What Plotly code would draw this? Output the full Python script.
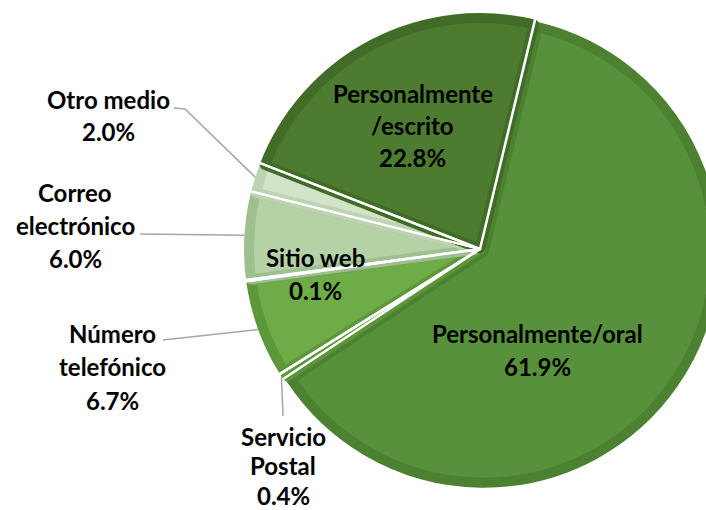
import math
import plotly.graph_objects as go

# ---- data ----
labels = ["Personalmente/oral", "Servicio Postal", "Número telefónico", "Sitio web",
          "Correo electrónico", "Otro medio", "Personalmente/escrito"]
values = [61.9, 0.4, 6.7, 0.1, 6.0, 2.0, 22.8]
label_lines = [["Personalmente/oral"], ["Servicio", "Postal"], ["Número", "telefónico"],
               ["Sitio web"], ["Correo", "electrónico"], ["Otro medio"], ["Personalmente", "/escrito"]]
pulls = [0.02, 0, 0, 0, 0, 0, 0]

fill_colors = ["#58913C", "#6AA84A", "#6EAC48", "#8CB870", "#B4D2A5", "#D2E3C8", "#4D7B30"]
border_colors = ["#4C8131", "#5A953A", "#5C9739", "#78A55C", "#9EBF8F", "#BDD3B1", "#416C28"]
sep_widths = [0, 2.5, 2.5, 2, 2, 2, 2.5]

# ---- layout geometry (pixels) ----
W, H = 730, 510
CX, CY = 480, 249
R = 236
BORDER = 10
ROT = 13.5
r0 = R - BORDER / 2


def px(x):
    return x / W


def py(y):
    return 1 - y / H


def domain_for(r, pl):
    half = r * (1 + max(pl))
    return dict(x=[(CX - half) / W, (CX + half) / W],
                y=[1 - (CY + half) / H, 1 - (CY - half) / H])


fig = go.Figure()
fig.add_trace(go.Pie(
    labels=labels, values=values, sort=False, direction="clockwise", rotation=ROT,
    pull=pulls, domain=domain_for(r0, pulls), textinfo="none", showlegend=False,
    marker=dict(colors=fill_colors, line=dict(color=border_colors, width=BORDER)),
))
# white separators (larger radius so the outer arc falls outside the pie)
r2 = R + 4
nopull = [0] * len(values)
fig.add_trace(go.Pie(
    labels=labels, values=values, sort=False, direction="clockwise", rotation=ROT,
    pull=nopull, domain=domain_for(r2, nopull), textinfo="none", showlegend=False,
    hoverinfo="skip",
    marker=dict(colors=["rgba(0,0,0,0)"] * len(values), line=dict(color="white", width=sep_widths)),
))

# slice mid angles from data
total = sum(values)
mids = []
acc = ROT
for v in values:
    span = v / total * 360
    mids.append(acc + span / 2)
    acc += span


def edge(i, r=R):
    a = math.radians(mids[i])
    return CX + r * math.sin(a), CY - r * math.cos(a)


# label block positions: (center x, first line y, line step)
label_pos = {
    0: (537, 333, 33), 1: (283, 436, 29.5), 2: (112, 333, 33.5), 3: (315, 257, 33),
    4: (75, 192, 33), 5: (108, 100, 32), 6: (413, 93, 32),
}
font = dict(family="Lato", size=24, color="black")
for i, (x, y0, ls) in label_pos.items():
    lines = label_lines[i] + [f"{values[i]:.1f}%"]
    for k, t in enumerate(lines):
        fig.add_annotation(x=px(x), y=py(y0 + k * ls), xref="paper", yref="paper",
                           text=f"<b>{t}</b>", showarrow=False, font=font,
                           xanchor="center", yanchor="middle")

# leader lines: label end -> slice edge (computed from data)
leaders = {
    5: [(174, 108), (185, 109)],
    4: [(140, 234)],
    2: [(163, 340)],
    1: [(283, 416)],
}
for i, pts in leaders.items():
    ex, ey = edge(i)
    allp = pts + [(ex, ey)]
    path = "M " + " L ".join(f"{px(a):.5f},{py(b):.5f}" for a, b in allp)
    fig.add_shape(type="path", path=path, xref="paper", yref="paper",
                  line=dict(color="#A6A6A6", width=1.5))

fig.update_layout(width=W, height=H, autosize=False,
                  margin=dict(l=0, r=0, t=0, b=0),
                  paper_bgcolor="white", plot_bgcolor="white")

fig.write_html("out.html", config={"displayModeBar": False}, post_script=(
    "document.body.style.margin='0';"
    "document.body.style.overflow='hidden';"
    "document.documentElement.style.overflow='hidden';"))
